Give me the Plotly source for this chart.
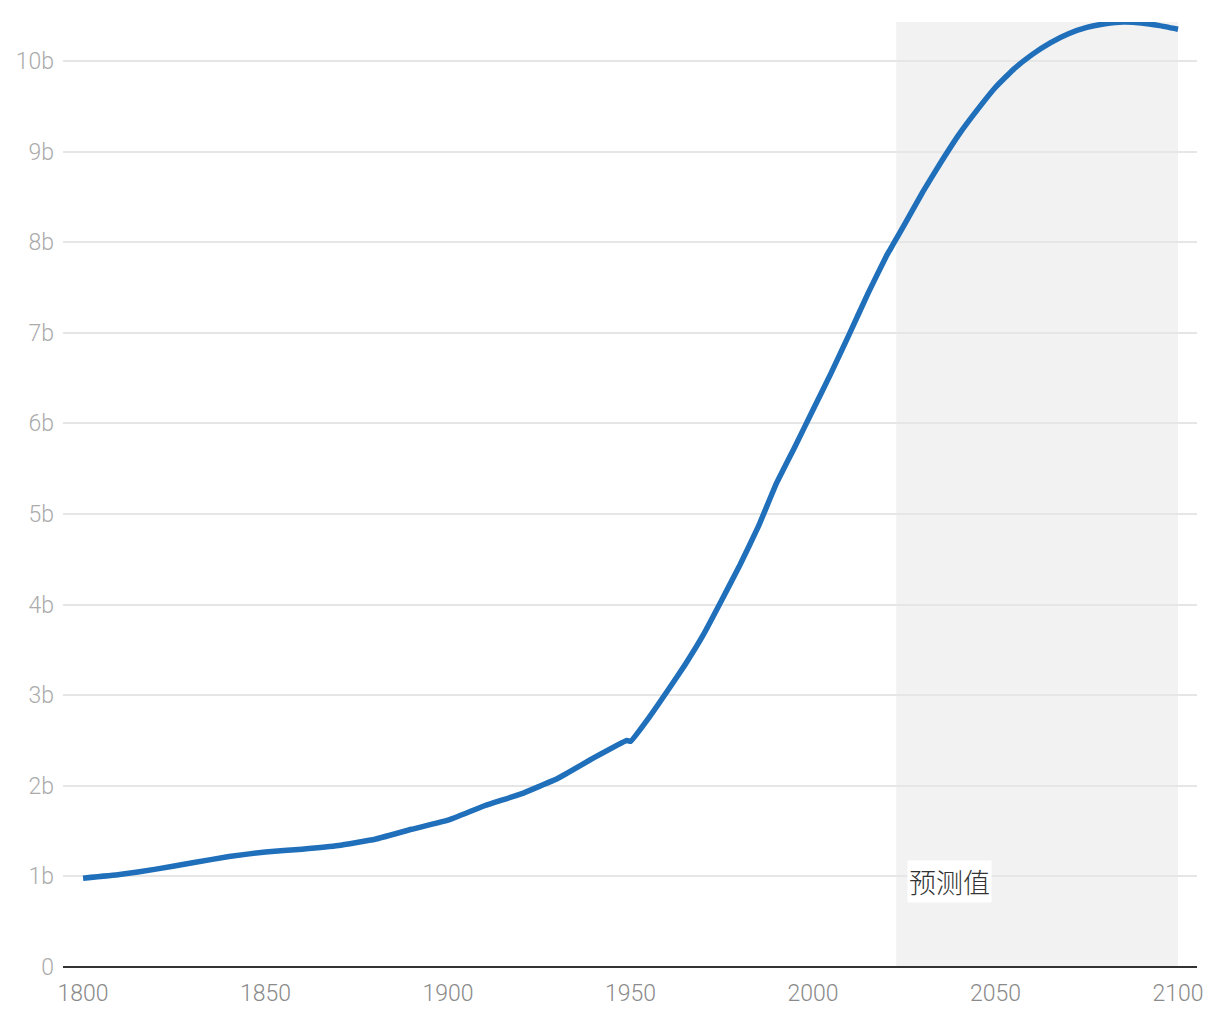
import plotly.graph_objects as go

years = [1800, 1810, 1820, 1830, 1840, 1850, 1860, 1870, 1880, 1890,
         1900, 1910, 1920, 1930, 1940, 1949, 1950, 1955, 1960, 1965,
         1970, 1975, 1980, 1985, 1990, 1995, 2000, 2005, 2010, 2015,
         2020, 2021, 2022, 2025, 2030, 2035, 2040, 2045, 2050, 2055,
         2060, 2065, 2070, 2075, 2080, 2085, 2090, 2095, 2100]
population_b = [0.98, 1.02, 1.08, 1.15, 1.22, 1.27, 1.30, 1.34, 1.41, 1.52,
                1.62, 1.78, 1.91, 2.08, 2.31, 2.50, 2.49, 2.75, 3.04, 3.34,
                3.67, 4.05, 4.44, 4.86, 5.34, 5.74, 6.15, 6.56, 6.99, 7.43,
                7.84, 7.91, 7.98, 8.19, 8.55, 8.88, 9.19, 9.46, 9.71, 9.91,
                10.07, 10.20, 10.30, 10.37, 10.41, 10.43, 10.42, 10.39, 10.35]

y_tick_vals_b = [0, 1, 2, 3, 4, 5, 6, 7, 8, 9, 10]
y_tick_text = ["0", "1b", "2b", "3b", "4b", "5b", "6b", "7b", "8b", "9b", "10b"]
x_tick_vals = [1800, 1850, 1900, 1950, 2000, 2050, 2100]
x_tick_text = ["1800", "1850", "1900", "1950", "2000", "2050", "2100"]

projection_start = 2022.8
projection_end = 2100
projection_label = "预测值"

population = [v * 1e9 for v in population_b]
y_tick_vals = [v * 1e9 for v in y_tick_vals_b]

fig = go.Figure()
fig.add_trace(go.Scatter(
    x=years, y=population, mode="lines",
    line=dict(color="#1f6fba", width=5.5, shape="spline", smoothing=0.3),
    cliponaxis=False, hoverinfo="skip", showlegend=False,
))

fig.add_shape(type="rect", xref="x", yref="paper",
              x0=projection_start, x1=projection_end, y0=0, y1=1,
              fillcolor="#f2f2f2", line=dict(width=0), layer="below")

fig.add_annotation(x=2025.7, y=0.94e9, xref="x", yref="y",
                   text=projection_label, showarrow=False,
                   xanchor="left", yanchor="middle",
                   font=dict(family="Noto Sans CJK SC", size=27, color="#333333"),
                   bgcolor="white", borderpad=1)

fig.update_layout(
    width=1204, height=1004,
    margin=dict(l=55, r=15, t=14, b=45, autoexpand=False),
    paper_bgcolor="white", plot_bgcolor="white",
    font=dict(family="Roboto", weight=300),
)
fig.update_xaxes(
    range=[1794.5, 2105.2], tickvals=x_tick_vals, ticktext=x_tick_text,
    showgrid=False, zeroline=False, showline=False, ticks="",
    tickfont=dict(size=23, color="#8a8a8a", family="Roboto", weight=300),
    ticklabelstandoff=10, automargin=False,
)
fig.update_yaxes(
    range=[0, 10.43e9], tickvals=y_tick_vals, ticktext=y_tick_text,
    showgrid=True, gridcolor="#e6e6e6", gridwidth=1.5,
    zeroline=True, zerolinecolor="#333333", zerolinewidth=2,
    showline=False, ticks="",
    tickfont=dict(size=23, color="#ababab", family="Roboto", weight=300),
    ticklabelstandoff=8, automargin=False,
)

fig.write_html("out.html")
